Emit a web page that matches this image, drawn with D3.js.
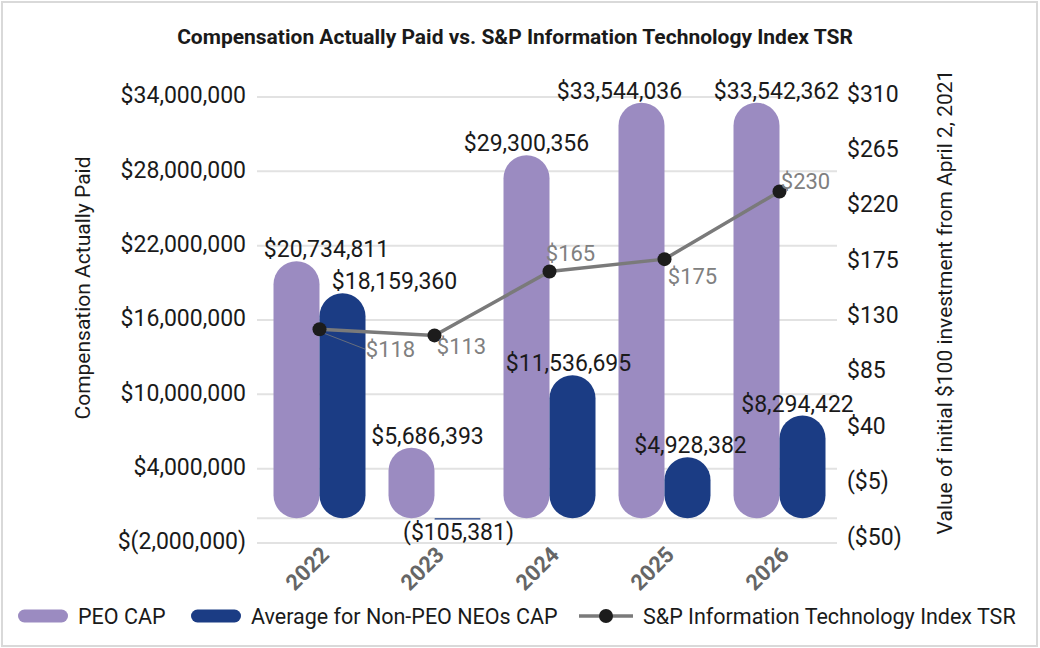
<!DOCTYPE html>
<html>
<head>
<meta charset="utf-8">
<script src="https://cdn.jsdelivr.net/npm/d3@7"></script>
<style>
  body { margin: 0; background: #fff; }
  text { font-family: Roboto, "Noto Sans", sans-serif; }
</style>
</head>
<body>
<div id="chart"></div>
<script>
// chart data
const years = ["2022", "2023", "2024", "2025", "2026"];
const peoCap = [20734811, 5686393, 29300356, 33544036, 33542362];
const neoCap = [18159360, -105381, 11536695, 4928382, 8294422];
const tsr = [118, 113, 165, 175, 230];
const leftTicks = [-2000000, 4000000, 10000000, 16000000, 22000000, 28000000, 34000000];
const rightTicks = [-50, -5, 40, 85, 130, 175, 220, 265, 310];

const width = 1040, height = 648;
const peoColor = "#9b8bc1", neoColor = "#1b3c84", lineColor = "#7a7a7a";

const svg = d3.select("#chart").append("svg")
  .attr("width", width)
  .attr("height", height);

// outer frame
svg.append("rect")
  .attr("x", 2).attr("y", 2)
  .attr("width", width - 5).attr("height", height - 4)
  .attr("fill", "#fff")
  .attr("stroke", "#d9d9d9")
  .attr("stroke-width", 2);

svg.append("text")
  .attr("x", 515).attr("y", 44)
  .attr("text-anchor", "middle")
  .style("font-size", "21px")
  .style("font-weight", "bold")
  .attr("fill", "#1a1a1a")
  .text("Compensation Actually Paid vs. S&P Information Technology Index TSR");

// scales
const x = d3.scaleBand().domain(years).range([262, 837]);
const yLeft = d3.scaleLinear().domain([-2000000, 34000000]).range([543, 97]);
const yRight = d3.scaleLinear().domain([-50, 310]).range([536, 93]);
const barW = 46;

const money = d3.format(",.0f");
const fmtLeft = v => v < 0 ? `$(${money(-v)})` : `$${money(v)}`;
const fmtRight = v => v < 0 ? `($${money(-v)})` : `$${money(v)}`;

// gridlines
svg.append("g")
  .selectAll("line")
  .data(leftTicks.concat([0]))
  .join("line")
  .attr("x1", 257).attr("x2", 837)
  .attr("y1", d => yLeft(d)).attr("y2", d => yLeft(d))
  .attr("stroke", "#e2e2e2")
  .attr("stroke-width", 2);

// left axis
const leftAxis = svg.append("g")
  .attr("transform", "translate(246,0)")
  .call(d3.axisLeft(yLeft).tickValues(leftTicks).tickFormat(fmtLeft).tickSize(0).tickPadding(0));
leftAxis.select(".domain").remove();
leftAxis.selectAll("text")
  .attr("dy", "0.25em")
  .style("font-size", "23px")
  .attr("fill", "#1a1a1a");

// right axis
const rightAxis = svg.append("g")
  .attr("transform", "translate(847,0)")
  .call(d3.axisRight(yRight).tickValues(rightTicks).tickFormat(fmtRight).tickSize(0).tickPadding(0));
rightAxis.select(".domain").remove();
rightAxis.selectAll("text")
  .attr("dy", "0.35em")
  .style("font-size", "23px")
  .attr("fill", "#1a1a1a");

// x axis labels
const xAxis = svg.append("g")
  .attr("transform", "translate(11,556)")
  .call(d3.axisBottom(x).tickSize(0).tickPadding(0));
xAxis.select(".domain").remove();
xAxis.selectAll("text")
  .attr("transform", "rotate(-45)")
  .attr("text-anchor", "end")
  .attr("dy", 0)
  .style("font-size", "22px")
  .style("font-weight", "bold")
  .attr("fill", "#666");

// axis titles
svg.append("text")
  .attr("transform", "translate(90,288) rotate(-90)")
  .attr("text-anchor", "middle")
  .style("font-size", "21px")
  .attr("fill", "#1a1a1a")
  .text("Compensation Actually Paid");

svg.append("text")
  .attr("transform", "translate(952,302) rotate(-90)")
  .attr("text-anchor", "middle")
  .style("font-size", "21px")
  .attr("fill", "#1a1a1a")
  .text("Value of initial $100 investment from April 2, 2021");

// bars, rounded at both ends
const series = [
  { key: "peo", values: peoCap, color: peoColor, off: -barW, labelDx: [30, 16, 0, -22, 20] },
  { key: "neo", values: neoCap, color: neoColor, off: 0, labelDx: [52, 1, -4, 3, -5] }
];

series.forEach(s => {
  const rows = years.map((yr, i) => ({ yr, v: s.values[i], dx: s.labelDx[i] }));
  const left = d => x(d.yr) + x.bandwidth() / 2 + s.off;

  svg.append("g").selectAll("rect")
    .data(rows)
    .join("rect")
    .attr("x", left)
    .attr("y", d => Math.min(yLeft(d.v), yLeft(0)))
    .attr("width", barW)
    .attr("height", d => Math.abs(yLeft(d.v) - yLeft(0)))
    .attr("rx", d => Math.min(barW / 2, Math.abs(yLeft(d.v) - yLeft(0)) / 2))
    .attr("fill", s.color);

  svg.append("g").selectAll("text")
    .data(rows)
    .join("text")
    .attr("x", d => left(d) + barW / 2 + d.dx)
    .attr("y", d => d.v < 0 ? yLeft(0) + 14 : yLeft(d.v) - 12)
    .attr("dy", "0.35em")
    .attr("text-anchor", "middle")
    .style("font-size", "23px")
    .attr("fill", "#1a1a1a")
    .text(d => fmtRight(d.v));
});

// TSR line
const tsrRows = years.map((yr, i) => ({ yr, v: tsr[i] }));
const px = d => x(d.yr) + x.bandwidth() / 2;
const line = d3.line().x(px).y(d => yRight(d.v));

svg.append("path")
  .datum(tsrRows)
  .attr("fill", "none")
  .attr("stroke", lineColor)
  .attr("stroke-width", 3.5)
  .attr("d", line);

// label offsets from each point
const tsrLabelPos = [[71, 20], [27, 11], [21, -18], [28, 17], [26, -10]];

// leader line for the first label
svg.append("line")
  .attr("x1", px(tsrRows[0]) + 2).attr("y1", yRight(tsr[0]) + 3)
  .attr("x2", px(tsrRows[0]) + tsrLabelPos[0][0] - 25)
  .attr("y2", yRight(tsr[0]) + tsrLabelPos[0][1])
  .attr("stroke", lineColor)
  .attr("stroke-width", 0.8);

svg.append("g").selectAll("circle")
  .data(tsrRows)
  .join("circle")
  .attr("cx", px)
  .attr("cy", d => yRight(d.v))
  .attr("r", 7)
  .attr("fill", "#1c1c1c");

svg.append("g").selectAll("text")
  .data(tsrRows)
  .join("text")
  .attr("x", (d, i) => px(d) + tsrLabelPos[i][0])
  .attr("y", (d, i) => yRight(d.v) + tsrLabelPos[i][1])
  .attr("dy", "0.35em")
  .attr("text-anchor", "middle")
  .style("font-size", "22px")
  .attr("fill", "#808080")
  .text(d => fmtRight(d.v));

// legend
const legend = svg.append("g").attr("transform", "translate(0,616)");
const legendItems = [
  { label: "PEO CAP", color: peoColor, x: 18, type: "bar" },
  { label: "Average for Non-PEO NEOs CAP", color: neoColor, x: 191, type: "bar" },
  { label: "S&P Information Technology Index TSR", color: lineColor, x: 579, type: "line" }
];

legendItems.forEach(item => {
  if (item.type === "bar") {
    legend.append("rect")
      .attr("x", item.x).attr("y", -6.5)
      .attr("width", 50).attr("height", 13)
      .attr("rx", 6.5)
      .attr("fill", item.color);
  } else {
    legend.append("line")
      .attr("x1", item.x).attr("x2", item.x + 54)
      .attr("stroke", item.color)
      .attr("stroke-width", 3.5);
    legend.append("circle")
      .attr("cx", item.x + 27)
      .attr("r", 7)
      .attr("fill", "#1c1c1c");
  }
  legend.append("text")
    .attr("x", item.x + (item.type === "bar" ? 60 : 64))
    .attr("dy", "0.35em")
    .style("font-size", "21.5px")
    .attr("fill", "#1a1a1a")
    .text(item.label);
});
</script>
</body>
</html>
